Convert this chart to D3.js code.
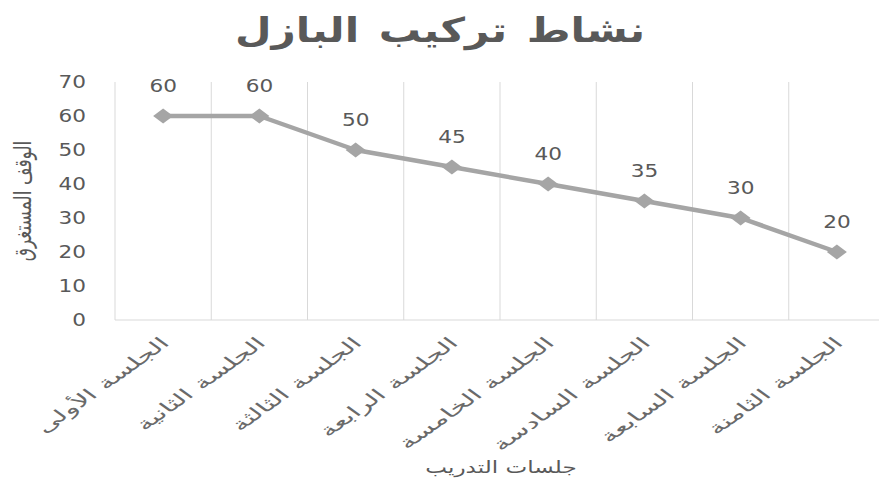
<!DOCTYPE html>
<html><head><meta charset="utf-8">
<script src="https://cdn.jsdelivr.net/npm/d3@7"></script>
<style>body{margin:0;background:#fff}svg{display:block}text{font-family:"DejaVu Sans",sans-serif}</style>
</head><body><svg id="c" width="879" height="482"></svg>
<script>
const categories = ["الجلسة الأولى","الجلسة الثانية","الجلسة الثالثة","الجلسة الرابعة","الجلسة الخامسة","الجلسة السادسة","الجلسة السابعة","الجلسة الثامنة"];
const values = [60,60,50,45,40,35,30,20];
const yTicks = [0,10,20,30,40,50,60,70];
const title = "نشاط تركيب البازل";
const yTitle = "الوقف المستغرق";
const xTitle = "جلسات التدريب";

const svg = d3.select("#c");
const grey = "#595959", grid = "#d9d9d9", lineC = "#a5a5a5";
const SX = 1.4; // horizontal stretch of the reference
const x = d3.scaleBand().domain(categories).range([115, 885]);
const y = d3.scaleLinear().domain([0,70]).range([320, 82]);

// vertical gridlines at category boundaries
const bounds = categories.map(c => x(c)).concat([x.range()[1]]);
svg.append("g").selectAll("line").data(bounds.slice(1)).join("line")
  .attr("x1", d=>d).attr("x2", d=>d).attr("y1", y(70)).attr("y2", y(0))
  .attr("stroke", grid).attr("stroke-width", 1);
svg.append("line").attr("x1",115).attr("x2",115).attr("y1",y(70)).attr("y2",y(0)).attr("stroke",grid);
svg.append("line").attr("x1",115).attr("x2",885).attr("y1",y(0)).attr("y2",y(0)).attr("stroke",grid);

// y axis
const yAxis = d3.axisLeft(y).tickValues(yTicks).tickSize(0).tickPadding(0);
const gy = svg.append("g").attr("transform","translate(86,0)").call(yAxis);
gy.select(".domain").remove();
gy.selectAll(".tick text").attr("fill", grey).attr("font-size", 18).attr("font-family","DejaVu Sans, sans-serif")
  .attr("x",0).attr("transform","scale(1.2,1)");

// x axis labels
const xAxis = d3.axisBottom(x).tickSize(0).tickPadding(0);
const gx = svg.append("g").attr("transform","translate(0,340)").call(xAxis);
gx.select(".domain").remove();
gx.selectAll(".tick text").attr("fill", "#6a6a6a").attr("font-size", 16).attr("font-family","DejaVu Sans, sans-serif")
  .attr("text-anchor","end").attr("dy","0.35em").attr("y",0).attr("x",0)
  .attr("transform",`translate(2,0) scale(${SX},1) rotate(-45)`)
  .each(function(){ const L = this.getComputedTextLength(); d3.select(this).attr("textLength", L*1.38).attr("lengthAdjust","spacingAndGlyphs"); });

// line
const cx = d => x(d) + x.bandwidth()/2;
svg.append("path").datum(values)
  .attr("d", d3.line().x((d,i)=>cx(categories[i])).y(d=>y(d)))
  .attr("fill","none").attr("stroke", lineC).attr("stroke-width", 4.5).attr("stroke-linejoin","round");
const hw = 10, hh = 7.5;
svg.append("g").selectAll("path").data(values).join("path")
  .attr("d", `M0,${-hh}L${hw},0L0,${hh}L${-hw},0Z`)
  .attr("transform",(d,i)=>`translate(${cx(categories[i])},${y(d)})`)
  .attr("fill", lineC);
svg.append("g").selectAll("text").data(values).join("text")
  .attr("transform",(d,i)=>`translate(${cx(categories[i])},${y(d)-24}) scale(1.2,1)`)
  .attr("text-anchor","middle").attr("fill", grey).attr("font-size",18).text(d=>d);

// titles
svg.append("text").attr("transform","translate(440,42) scale(1.24,1)").attr("text-anchor","middle")
  .attr("font-size",34).attr("font-weight","bold").attr("fill",grey).attr("word-spacing","4px").text(title);
svg.append("text").attr("transform",`translate(31,201) scale(${SX},1) rotate(-90)`).attr("text-anchor","middle")
  .attr("font-size",17).attr("fill",grey).text(yTitle);
svg.append("text").attr("transform",`translate(501,473) scale(${SX},1)`).attr("text-anchor","middle")
  .attr("font-size",16.5).attr("fill",grey).text(xTitle);
</script></body></html>
